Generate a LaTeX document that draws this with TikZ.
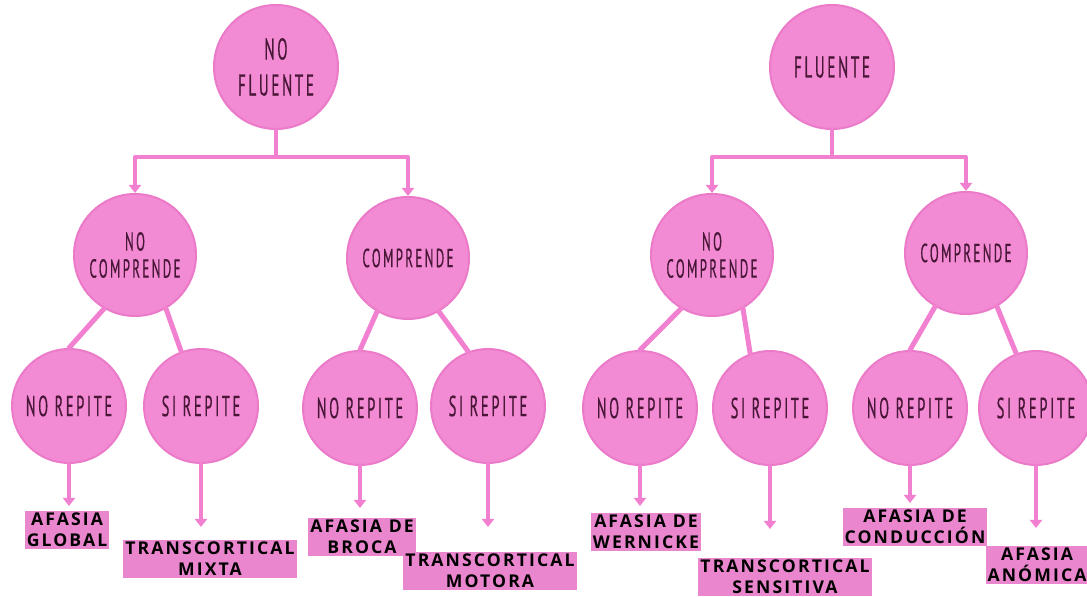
\documentclass[tikz,border=0pt]{standalone}
\usepackage{fontspec}
\newfontfamily\circfont[FakeStretch=0.5,LetterSpace=9,FakeBold=0.4]{PT Sans}
\newfontfamily\labfont[LetterSpace=12]{Open Sans}
\usetikzlibrary{arrows.meta}

\definecolor{circpink}{RGB}{243,139,212}
\definecolor{edgepink}{RGB}{235,122,200}
\definecolor{linepink}{RGB}{242,128,208}
\definecolor{hlpink}{RGB}{234,134,206}
\definecolor{inkpurple}{RGB}{72,22,54}

\begin{document}
\begin{tikzpicture}[line cap=round,line join=round,x=0.5pt,y=-0.5pt,
  basec/.style={circle,fill=circpink,draw=edgepink,line width=1pt,inner sep=0pt,align=center,text=inkpurple},
  rootc/.style={basec,minimum size=62pt,font=\circfont\fontsize{15}{18}\selectfont},
  midc/.style={basec,minimum size=61pt,font=\circfont\fontsize{13}{13.5}\selectfont},
  leafc/.style={basec,minimum size=57pt,font=\circfont\fontsize{14.5}{16}\selectfont},
  conn/.style={draw=linepink,line width=2pt},
  arr/.style={conn,-{Triangle[width=6pt,length=4pt]}},
  lab/.style={fill=hlpink,align=center,inner xsep=1pt,inner ysep=1pt,
    font=\labfont\bfseries\fontsize{8.8}{10.5}\selectfont}]
\useasboundingbox (0,0) rectangle (1087,597);

% roots
\node[rootc] (nf) at (276,67) {NO\\FLUENTE};
\node[rootc] (fl) at (832,67) {FLUENTE};

% second level
\node[midc] (nc1) at (135,255) {NO\\COMPRENDE};
\node[midc] (co1) at (408,258) {COMPRENDE};
\node[midc] (nc2) at (712,255) {NO\\COMPRENDE};
\node[midc] (co2) at (966,253) {COMPRENDE};

% third level
\node[leafc] (nr1) at (69,406) {NO REPITE};
\node[leafc] (sr1) at (201,406) {SI REPITE};
\node[leafc] (nr2) at (360,408) {NO REPITE};
\node[leafc] (sr2) at (488,406) {SI REPITE};
\node[leafc] (nr3) at (640,408) {NO REPITE};
\node[leafc] (sr3) at (770,408) {SI REPITE};
\node[leafc] (nr4) at (910,408) {NO REPITE};
\node[leafc] (sr4) at (1036,408) {SI REPITE};

% bars
\coordinate (b1) at (276,157);
\coordinate (b2) at (832,157);
\draw[arr] (nf.south) -- (b1) -| (nc1.north);
\draw[arr] (b1) -| (co1.north);
\draw[arr] (fl.south) -- (b2) -| (nc2.north);
\draw[arr] (b2) -| (co2.north);

% branches
\foreach \p/\a/\b in {nc1/nr1/sr1, co1/nr2/sr2, nc2/nr3/sr3, co2/nr4/sr4} {
  \draw[conn,line width=2.5pt] (\p.240) -- (\a.north);
  \draw[conn,line width=2.5pt] (\p.300) -- (\b.110);
}

% labels
\node[lab] (gl) at (67,530) {AFASIA\\GLOBAL};
\node[lab] (tmx) at (210,559) {TRANSCORTICAL\\MIXTA};
\node[lab] (br) at (362,537) {AFASIA DE\\BROCA};
\node[lab] (tmo) at (490,571) {TRANSCORTICAL\\MOTORA};
\node[lab] (we) at (646,532) {AFASIA DE\\WERNICKE};
\node[lab] (tse) at (785,577) {TRANSCORTICAL\\SENSITIVA};
\node[lab] (cd) at (915,527) {AFASIA DE\\CONDUCCIÓN};
\node[lab] (an) at (1037,565) {AFASIA\\ANÓMICA};

% arrows to labels
\foreach \c/\d in {nr1/42, sr1/63, nr2/42, sr2/63, nr3/40, sr3/63, nr4/37, sr4/62} {
  \path (\c.south) ++(0,\d) coordinate (\c tip);
  \draw[arr] (\c.south) -- (\c tip);
}
\end{tikzpicture}
\end{document}
